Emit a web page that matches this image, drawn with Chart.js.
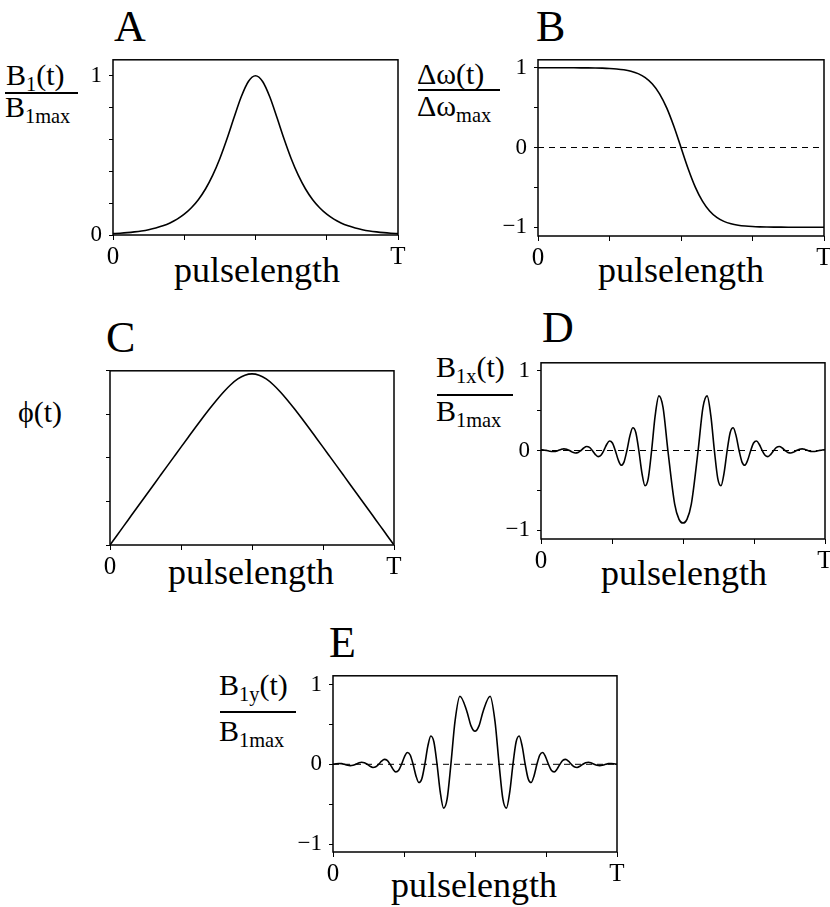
<!DOCTYPE html>
<html lang="en">
<head>
  <meta charset="UTF-8" />
  <title>Hyperbolic secant pulse</title>
  <script src="https://cdn.jsdelivr.net/npm/chart.js"></script>
  <style>
    body {
      margin: 0;
      width: 830px;
      height: 907px;
      background: #ffffff;
      overflow: hidden;
      position: relative;
      font-family: 'Liberation Serif', 'DejaVu Serif', serif;
      color: #000;
    }
    canvas { position: absolute; }
    .letter { position: absolute; font-size: 44px; line-height: 1; }
    .xlab { position: absolute; font-size: 36px; line-height: 1; width: 300px; text-align: center; }
    .frac { position: absolute; font-size: 30px; line-height: 1; white-space: nowrap; }
    .bar { position: absolute; height: 2px; background: #000; }
    sub { font-size: 0.68em; vertical-align: -0.3em; line-height: 0; }
  </style>
</head>
<body>

  <!-- panel letters -->
  <div class="letter" style="left:114px; top:5px;">A</div>
  <div class="letter" style="left:536px; top:5px;">B</div>
  <div class="letter" style="left:106px; top:316px;">C</div>
  <div class="letter" style="left:542px; top:306px;">D</div>
  <div class="letter" style="left:329px; top:621px;">E</div>

  <!-- y titles -->
  <div class="frac" style="left:6px; top:60px;">B<sub>1</sub>(t)</div>
  <div class="bar" style="left:5px; top:92px; width:73px;"></div>
  <div class="frac" style="left:5px; top:92px;">B<sub>1max</sub></div>

  <div class="frac" style="left:417px; top:59px;">&Delta;&omega;(t)</div>
  <div class="bar" style="left:418px; top:89px; width:82px;"></div>
  <div class="frac" style="left:417px; top:91px;">&Delta;&omega;<sub>max</sub></div>

  <div class="frac" style="left:18px; top:397px;">&#981;(t)</div>

  <div class="frac" style="left:436px; top:352px;">B<sub>1x</sub>(t)</div>
  <div class="bar" style="left:437px; top:394px; width:76px;"></div>
  <div class="frac" style="left:436px; top:396px;">B<sub>1max</sub></div>

  <div class="frac" style="left:219px; top:670px;">B<sub>1y</sub>(t)</div>
  <div class="bar" style="left:220px; top:711px; width:76px;"></div>
  <div class="frac" style="left:219px; top:716px;">B<sub>1max</sub></div>

  <!-- x titles -->
  <div class="xlab" style="left:107px; top:252px;">pulselength</div>
  <div class="xlab" style="left:531px; top:252px;">pulselength</div>
  <div class="xlab" style="left:101px; top:554px;">pulselength</div>
  <div class="xlab" style="left:534px; top:555px;">pulselength</div>
  <div class="xlab" style="left:324px; top:867px;">pulselength</div>

  <canvas id="chartA"></canvas>
  <canvas id="chartB"></canvas>
  <canvas id="chartC"></canvas>
  <canvas id="chartD"></canvas>
  <canvas id="chartE"></canvas>

  <script>
    // time axis, fraction of the pulse length T
    const xTicks = [0, 0.25, 0.5, 0.75, 1];
    const xTickText = ['0', '', '', '', 'T'];

    // A, B, C sampled every T/40
    const tGrid = [0, 0.025, 0.05, 0.075, 0.1, 0.125, 0.15, 0.175, 0.2, 0.225, 0.25,
      0.275, 0.3, 0.325, 0.35, 0.375, 0.4, 0.425, 0.45, 0.475, 0.5,
      0.525, 0.55, 0.575, 0.6, 0.625, 0.65, 0.675, 0.7, 0.725, 0.75,
      0.775, 0.8, 0.825, 0.85, 0.875, 0.9, 0.925, 0.95, 0.975, 1];

    // A: B1(t)/B1max
    const b1Amp = [0.0086, 0.0113, 0.0148, 0.0195, 0.0255, 0.0335, 0.0440, 0.0578, 0.0759, 0.0996, 0.1305,
      0.1709, 0.2232, 0.2905, 0.3756, 0.4805, 0.6042, 0.7390, 0.8679, 0.9640, 1.0000,
      0.9640, 0.8679, 0.7390, 0.6042, 0.4805, 0.3756, 0.2905, 0.2232, 0.1709, 0.1305,
      0.0996, 0.0759, 0.0578, 0.0440, 0.0335, 0.0255, 0.0195, 0.0148, 0.0113, 0.0086];

    // B: frequency sweep
    const dOmega = [0.9999, 0.9999, 0.9999, 0.9998, 0.9997, 0.9994, 0.9990, 0.9983, 0.9971, 0.9950, 0.9914,
      0.9853, 0.9748, 0.9569, 0.9268, 0.8770, 0.7969, 0.6737, 0.4967, 0.2660, 0,
      -0.2660, -0.4967, -0.6737, -0.7969, -0.8770, -0.9268, -0.9569, -0.9748, -0.9853, -0.9914,
      -0.9950, -0.9971, -0.9983, -0.9990, -0.9994, -0.9997, -0.9998, -0.9999, -0.9999, -0.9999];

    // C: phase (arbitrary units, 4 ticks)
    const phase = [0, 0.2251, 0.4503, 0.6753, 0.9004, 1.1255, 1.3504, 1.5753, 1.8000, 2.0242, 2.2480,
      2.4702, 2.6912, 2.9089, 3.1211, 3.3246, 3.5138, 3.6802, 3.8131, 3.8998, 3.9300,
      3.8998, 3.8131, 3.6802, 3.5138, 3.3246, 3.1211, 2.9089, 2.6912, 2.4702, 2.2480,
      2.0242, 1.8000, 1.5753, 1.3504, 1.1255, 0.9004, 0.6753, 0.4503, 0.2251, 0];

    // D, E: samples at eighth-turns of the phase
    const tOsc = [0, 0.0100, 0.0201, 0.0301, 0.0402, 0.0502, 0.0603, 0.0703, 0.0803, 0.0904,
      0.1004, 0.1105, 0.1205, 0.1306, 0.1406, 0.1507, 0.1607, 0.1708, 0.1808, 0.1909,
      0.2010, 0.2111, 0.2212, 0.2312, 0.2413, 0.2515, 0.2616, 0.2718, 0.2820, 0.2922,
      0.3025, 0.3128, 0.3233, 0.3338, 0.3445, 0.3553, 0.3664, 0.3777, 0.3895, 0.4019,
      0.4151, 0.4297, 0.4468, 0.4707, 0.486, 0.5, 0.514, 0.5293, 0.5532, 0.5703,
      0.5849, 0.5981, 0.6105, 0.6223, 0.6336, 0.6447, 0.6555, 0.6662, 0.6767, 0.6872,
      0.6975, 0.7078, 0.7180, 0.7282, 0.7384, 0.7485, 0.7587, 0.7688, 0.7788, 0.7889,
      0.7990, 0.8091, 0.8192, 0.8292, 0.8393, 0.8493, 0.8594, 0.8694, 0.8795, 0.8895,
      0.8996, 0.9096, 0.9197, 0.9297, 0.9397, 0.9498, 0.9598, 0.9699, 0.9799, 0.9900, 1];

    const b1x = [0.0086, 0.0068, 0, -0.0084, -0.0133, -0.0105, 0, 0.0131, 0.0206, 0.0163,
      0, -0.0202, -0.0320, -0.0252, 0, 0.0314, 0.0495, 0.0390, 0, -0.0486,
      -0.0767, -0.0605, 0, 0.0754, 0.1189, 0.0938, 0, -0.1167, -0.1842, -0.1453,
      0, 0.1809, 0.2853, 0.2251, 0, -0.2802, -0.4421, -0.3487, 0, 0.4341,
      0.6849, 0.5404, 0, -0.6726, -0.863, -0.910, -0.863, -0.6726, 0, 0.5404,
      0.6849, 0.4341, 0, -0.3487, -0.4421, -0.2802, 0, 0.2251, 0.2853, 0.1809,
      0, -0.1453, -0.1842, -0.1167, 0, 0.0938, 0.1189, 0.0754, 0, -0.0605,
      -0.0767, -0.0486, 0, 0.0390, 0.0495, 0.0314, 0, -0.0252, -0.0320, -0.0202,
      0, 0.0163, 0.0206, 0.0131, 0, -0.0105, -0.0133, -0.0084, 0, 0.0068, 0.0086];

    const b1y = [0, 0.0068, 0.0107, 0.0084, 0, -0.0105, -0.0166, -0.0131, 0, 0.0163,
      0.0257, 0.0202, 0, -0.0252, -0.0398, -0.0314, 0, 0.0390, 0.0616, 0.0486,
      0, -0.0605, -0.0955, -0.0754, 0, 0.0938, 0.1479, 0.1167, 0, -0.1453,
      -0.2292, -0.1809, 0, 0.2251, 0.3552, 0.2802, 0, -0.3487, -0.5503, -0.4341,
      0, 0.5404, 0.8526, 0.6726, 0.482, 0.414, 0.482, 0.6726, 0.8526, 0.5404,
      0, -0.4341, -0.5503, -0.3487, 0, 0.2802, 0.3552, 0.2251, 0, -0.1809,
      -0.2292, -0.1453, 0, 0.1167, 0.1479, 0.0938, 0, -0.0754, -0.0955, -0.0605,
      0, 0.0486, 0.0616, 0.0390, 0, -0.0314, -0.0398, -0.0252, 0, 0.0202,
      0.0257, 0.0163, 0, -0.0131, -0.0166, -0.0105, 0, 0.0084, 0.0107, 0.0068, 0];

    // y ticks per panel
    const ticksA = [0, 0.2, 0.4, 0.6, 0.8, 1];
    const ticksAText = ['0', '', '', '', '', '1'];
    const ticksSym = [-1, -0.5, 0, 0.5, 1];
    const ticksSymText = ['\u22121', '', '0', '', '1'];
    const ticksC = [0, 1, 2, 3, 4];
    const ticksCText = ['', '', '', '', ''];

    const FONT = "'Liberation Serif', 'DejaVu Serif', serif";
    const YW = 44, XH = 40, PT = 16, PR = 16;

    // box drawn all round the plot area
    const framePlugin = {
      id: 'frame',
      afterDatasetsDraw(chart) {
        const a = chart.chartArea, ctx = chart.ctx;
        ctx.save();
        ctx.strokeStyle = '#000';
        ctx.lineWidth = 1.5;
        ctx.strokeRect(a.left, a.top, a.right - a.left, a.bottom - a.top);
        ctx.restore();
      }
    };

    function drawPanel(id, box, xs, ys, yMin, yMax, yTicks, yText, zeroLine) {
      const cv = document.getElementById(id);
      const W = box.r - box.l + YW + PR;
      const H = box.b - box.t + PT + XH;
      cv.width = W; cv.height = H;
      cv.style.width = W + 'px'; cv.style.height = H + 'px';
      cv.style.left = (box.l - YW) + 'px';
      cv.style.top = (box.t - PT) + 'px';

      const datasets = [];
      if (zeroLine) {
        datasets.push({
          data: [{ x: xTicks[0], y: 0 }, { x: xTicks[xTicks.length - 1], y: 0 }],
          borderColor: '#000', borderWidth: 1, borderDash: [6, 5], pointRadius: 0
        });
      }
      datasets.push({
        data: xs.map((x, i) => ({ x: x, y: ys[i] })),
        borderColor: '#000', borderWidth: 1.6, pointRadius: 0,
        cubicInterpolationMode: 'monotone', fill: false
      });

      new Chart(cv, {
        type: 'line',
        data: { datasets: datasets },
        plugins: [framePlugin],
        options: {
          responsive: false,
          animation: false,
          layout: { padding: { top: PT, right: PR, left: 0, bottom: 0 } },
          plugins: { legend: { display: false }, tooltip: { enabled: false } },
          scales: {
            x: {
              type: 'linear', min: 0, max: 1,
              afterBuildTicks: s => { s.ticks = xTicks.map(v => ({ value: v })); },
              afterFit: s => { s.height = XH; },
              border: { display: false },
              grid: { drawOnChartArea: false, drawTicks: true, tickLength: 5, color: '#000', lineWidth: 1 },
              ticks: {
                autoSkip: false, maxRotation: 0, padding: 2, color: '#000',
                font: { family: FONT, size: 25 },
                callback: (v, i) => xTickText[i]
              }
            },
            y: {
              type: 'linear', min: yMin, max: yMax,
              afterBuildTicks: s => { s.ticks = yTicks.map(v => ({ value: v })); },
              afterFit: s => { s.width = YW; },
              border: { display: false },
              grid: { drawOnChartArea: false, drawTicks: true, tickLength: 4, color: '#000', lineWidth: 1 },
              ticks: {
                autoSkip: false, padding: 7, color: '#000',
                font: { family: FONT, size: 23 },
                callback: (v, i) => yText[i]
              }
            }
          }
        }
      });
    }

    drawPanel('chartA', { l: 113, t: 55, r: 398, b: 235 }, tGrid, b1Amp, 0, 1.1, ticksA, ticksAText, false);
    drawPanel('chartB', { l: 538, t: 55, r: 824, b: 236 }, tGrid, dOmega, -1.11, 1.1, ticksSym, ticksSymText, true);
    drawPanel('chartC', { l: 110, t: 366, r: 394, b: 545 }, tGrid, phase, 0, 4, ticksC, ticksCText, false);
    drawPanel('chartD', { l: 541, t: 358, r: 825, b: 539 }, tOsc, b1x, -1.11, 1.1, ticksSym, ticksSymText, true);
    drawPanel('chartE', { l: 333, t: 671, r: 617, b: 852 }, tOsc, b1y, -1.1, 1.11, ticksSym, ticksSymText, true);
  </script>
</body>
</html>
